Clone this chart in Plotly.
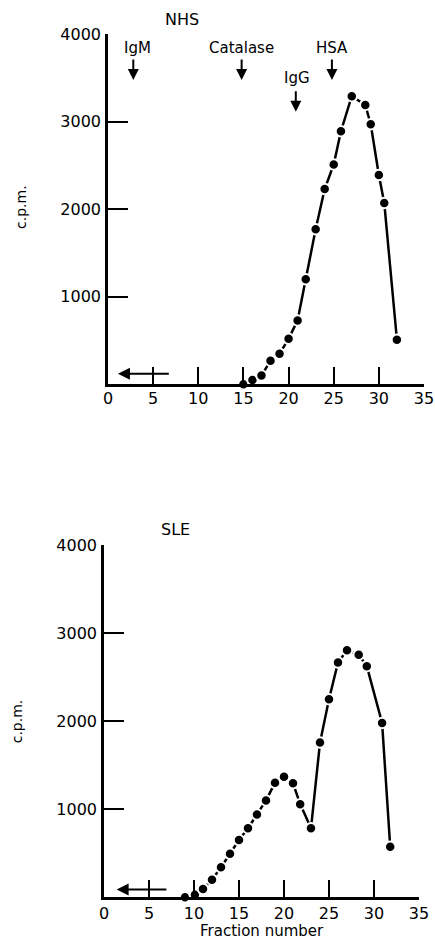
import plotly.graph_objects as go

# ---------------- data ----------------
nhs_fraction = [15, 16, 17, 18, 19, 20, 21, 21.9, 23, 24, 25, 25.8, 27, 28.5, 29.1, 30, 30.6, 32]
nhs_cpm = [0, 50, 100, 270, 350, 520, 730, 1200, 1770, 2230, 2510, 2890, 3290, 3190, 2970, 2390, 2070, 510]

sle_fraction = [9, 10.1, 11, 12, 13, 14, 15, 16, 17, 18, 19, 20, 21, 21.8, 23, 24, 25, 26, 27, 28.3, 29.2, 30.9, 31.8]
sle_cpm = [0, 30, 95, 200, 340, 495, 650, 785, 940, 1100, 1300, 1370, 1295, 1058, 784, 1757, 2250, 2666, 2805, 2755, 2625, 1980, 575]

marker_names = ["IgM", "Catalase", "IgG", "HSA"]
marker_fraction = [2.8, 14.8, 20.8, 24.8]

x_ticks = [0, 5, 10, 15, 20, 25, 30, 35]
y_ticks = [1000, 2000, 3000, 4000]

FONT = "DejaVu Sans"

fig = go.Figure()


def add_series(xs, ys, xa, ya):
    fig.add_trace(go.Scatter(
        x=xs, y=ys, mode="lines",
        line=dict(color="black", width=2.5),
        xaxis=xa, yaxis=ya, showlegend=False, hoverinfo="skip", cliponaxis=False))
    fig.add_trace(go.Scatter(
        x=xs, y=ys, mode="markers",
        marker=dict(color="black", size=10.5, line=dict(color="white", width=2)),
        xaxis=xa, yaxis=ya, showlegend=False, cliponaxis=False))


add_series(nhs_fraction, nhs_cpm, "x", "y")
add_series(sle_fraction, sle_cpm, "x2", "y2")

axis_common = dict(
    showline=True, linecolor="black", linewidth=2.5,
    ticks="inside", tickcolor="black", tickwidth=2,
    showgrid=False, zeroline=False, automargin=False,
    tickfont=dict(family=FONT, size=16, color="black"),
)

fig.update_layout(
    width=435, height=942,
    margin=dict(l=0, r=0, t=0, b=0),
    paper_bgcolor="white", plot_bgcolor="white",
    font=dict(family=FONT, color="black"),
    xaxis=dict(domain=[0.2483, 0.9747], anchor="y", range=[0, 35],
               tickvals=x_ticks, ticklen=18, ticklabelstandoff=-2, **axis_common),
    yaxis=dict(domain=[0.592, 0.9639], anchor="x", range=[0, 4000],
               tickvals=y_ticks, ticklen=20, ticklabelstandoff=1, **axis_common),
    xaxis2=dict(domain=[0.2391, 0.9632], anchor="y2", range=[0, 35],
                tickvals=x_ticks, ticklen=18, ticklabelstandoff=0, **axis_common),
    yaxis2=dict(domain=[0.04745, 0.4214], anchor="x2", range=[0, 4000],
                tickvals=y_ticks, ticklen=20, ticklabelstandoff=1, **axis_common),
)

ann = []
C = dict(xanchor="center", yanchor="middle", showarrow=False)
# panel titles
ann.append(dict(text="NHS", x=0.4177, y=0.9788, xref="paper", yref="paper",
                font=dict(size=16), **C))
ann.append(dict(text="SLE", x=0.4023, y=0.4374, xref="paper", yref="paper",
                font=dict(size=16), **C))
# y titles
ann.append(dict(text="c.p.m.", x=0.0499, y=0.780, xref="paper", yref="paper",
                textangle=-90, font=dict(size=14), **C))
ann.append(dict(text="c.p.m.", x=0.0384, y=0.234, xref="paper", yref="paper",
                textangle=-90, font=dict(size=14), **C))
# x title
ann.append(dict(text="Fraction number", x=0.6016, y=0.0, xref="paper", yref="paper",
                xanchor="center", yanchor="bottom", showarrow=False, font=dict(size=15)))

# marker protein labels + arrows
text_y = [0.9494, 0.9494, 0.9169, 0.9494]
text_dx = [0.5, 0.0, 0.1, 0.0]
head_y = [3474, 3474, 3112, 3474]
for name, fx, ty, dx, hy in zip(marker_names, marker_fraction, text_y, text_dx, head_y):
    ann.append(dict(text=name, x=fx + dx, y=ty, xref="x", yref="paper",
                    font=dict(size=15), **C))
    ann.append(dict(text="", x=fx, y=hy, xref="x", yref="y", ax=0, ay=-22,
                    showarrow=True, arrowhead=2, arrowsize=1.1, arrowwidth=2,
                    arrowcolor="black"))

# void-volume arrows
ann.append(dict(text="", x=1.1, y=120, xref="x", yref="y", ax=6.9, ay=120,
                axref="x", ayref="y", showarrow=True, arrowhead=2, arrowsize=1.2,
                arrowwidth=2, arrowcolor="black"))
ann.append(dict(text="", x=1.4, y=90, xref="x2", yref="y2", ax=7.1, ay=90,
                axref="x2", ayref="y2", showarrow=True, arrowhead=2, arrowsize=1.2,
                arrowwidth=2, arrowcolor="black"))

fig.update_layout(annotations=ann)
fig.write_html("out.html", config={"displayModeBar": False},
               post_script="document.body.style.margin='0';document.body.style.overflow='hidden';")
